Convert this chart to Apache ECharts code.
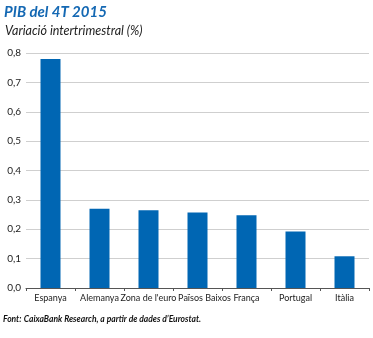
<!DOCTYPE html>
<html><head><meta charset="utf-8">
<script src="https://cdn.jsdelivr.net/npm/echarts@6/dist/echarts.min.js"></script>
<style>html,body{margin:0;padding:0;background:#fff}#c{width:373px;height:338px}</style>
</head><body><div id="c"></div>
<script>
const categories = ["Espanya","Alemanya","Zona de l'euro","Països Baixos","França","Portugal","Itàlia"];
const values = [0.78, 0.27, 0.265, 0.257, 0.248, 0.192, 0.108];
const yTicks = [0, 0.1, 0.2, 0.3, 0.4, 0.5, 0.6, 0.7, 0.8];

const axisData = categories.map((c, i) => i === 3
  ? {value: c, textStyle: {padding: [0, 0, 0, 14]}}
  : c);

const chart = echarts.init(document.getElementById('c'), null, {renderer:'canvas'});
chart.setOption({
  animation: false,
  backgroundColor: '#fff',
  title: [
    {text: 'PIB del 4T 2015', left: 4, top: 5, padding: 0,
     textStyle: {fontFamily: 'Lato', fontSize: 15, fontWeight: 'bold', fontStyle: 'italic', color: '#1468b3'}},
    {text: 'Variació intertrimestral (%)', left: 5, top: 24, padding: 0,
     textStyle: {fontFamily: 'Lato', fontSize: 12.5, fontWeight: 'normal', fontStyle: 'italic', color: '#222'}},
    {text: '{b|Font:} {n|CaixaBank Research, a partir de dades d\u2019Eurostat.}', left: 3, top: 315, padding: 0,
     textStyle: {fontSize: 8.5, rich: {
       b: {fontFamily: 'Lato', fontSize: 8.5, fontWeight: 'bold', fontStyle: 'italic', color: '#111'},
       n: {fontFamily: 'Lato', fontSize: 8.5, fontStyle: 'italic', color: '#111'}
     }}}
  ],
  grid: {left: 26, right: 4, top: 53, bottom: 50, containLabel: false},
  xAxis: {
    type: 'category', data: axisData,
    axisLine: {lineStyle: {color: '#555', width: 1}},
    axisTick: {show: true, alignWithLabel: false, length: 3, lineStyle: {color: '#555'}},
    axisLabel: {interval: 0, color: '#222', fontFamily: 'Lato', fontSize: 9, margin: 6, hideOverlap: false}
  },
  yAxis: {
    type: 'value', min: 0, max: 0.8, interval: 0.1,
    axisLine: {show: false}, axisTick: {show: false},
    splitLine: {lineStyle: {color: '#cfcfcf', width: 1}},
    axisLabel: {color: '#222', fontFamily: 'Lato', fontSize: 10, margin: 5,
      formatter: v => yTicks.some(t => Math.abs(t - v) < 1e-9) ? v.toFixed(1).replace('.', ',') : ''}
  },
  series: [{
    type: 'bar', data: values, barWidth: 20,
    itemStyle: {color: '#0066b3'}
  }]
});
</script></body></html>
